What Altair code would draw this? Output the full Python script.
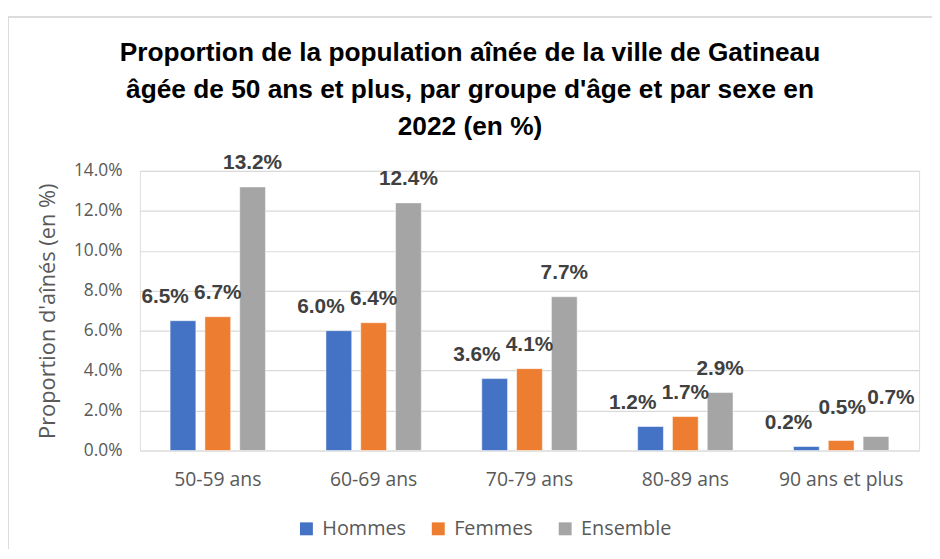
import altair as alt
import pandas as pd

groups = ["50-59 ans", "60-69 ans", "70-79 ans", "80-89 ans", "90 ans et plus"]
series = ["Hommes", "Femmes", "Ensemble"]
hommes = [6.5, 6.0, 3.6, 1.2, 0.2]
femmes = [6.7, 6.4, 4.1, 1.7, 0.5]
ensemble = [13.2, 12.4, 7.7, 2.9, 0.7]
colors = ["#4472C4", "#ED7D31", "#A5A5A5"]
y_ticks = [0, 2, 4, 6, 8, 10, 12, 14]

rows = []
for name, vals in zip(series, [hommes, femmes, ensemble]):
    for g, v in zip(groups, vals):
        rows.append({"groupe": g, "serie": name, "valeur": v})
df = pd.DataFrame(rows)

AX_FONT = "Open Sans"
LAB_FONT = "Liberation Sans"

x = alt.X("groupe:N", sort=groups,
          scale=alt.Scale(paddingInner=0.33, paddingOuter=0.165),
          axis=alt.Axis(title=None, labelAngle=0, labelFontSize=19.5, labelFont=AX_FONT,
                        labelColor="#595959", ticks=False, domain=False, labelPadding=20))
xo = alt.XOffset("serie:N", sort=series,
                 scale=alt.Scale(paddingInner=0.26, paddingOuter=0.13))
y = alt.Y("valeur:Q", scale=alt.Scale(domain=[0, 14]),
          axis=alt.Axis(values=y_ticks, labelExpr="format(datum.value, '.1f') + '%'",
                        title="Proportion d'aînés (en %)", titleFont=AX_FONT,
                        titleFontSize=22, titleFontWeight="normal", titleColor="#595959",
                        titleX=-93, titleY=141, titleAngle=270, titleBaseline="middle",
                        titleAlign="center",
                        labelFont=AX_FONT, labelFontSize=17.5, labelColor="#595959",
                        ticks=False, domain=False, labelPadding=18,
                        gridColor="#D9D9D9", gridWidth=1.2))
color = alt.Color("serie:N", sort=series,
                  scale=alt.Scale(domain=series, range=colors),
                  legend=alt.Legend(title=None, orient="none", direction="horizontal",
                                    legendX=158, legendY=351, symbolType="square",
                                    symbolSize=170, symbolStrokeWidth=0,
                                    labelFont=AX_FONT, labelFontSize=20,
                                    labelColor="#595959", columnPadding=22, labelOffset=6))

frame_top = alt.Chart(df).mark_rule(stroke="#DCDCDC", strokeWidth=1.5).encode(
    x=alt.value(-133), x2=alt.value(900), y=alt.value(-155))
frame_left = alt.Chart(df).mark_rule(stroke="#DCDCDC", strokeWidth=1.5).encode(
    x=alt.value(-133), y=alt.value(-155), y2=alt.value(450))

bars = alt.Chart(df).mark_bar(stroke="white", strokeWidth=0.5).encode(
    x=x, xOffset=xo, y=y, color=color)


def labels(cond, dx, dy):
    return alt.Chart(df).transform_filter(cond).transform_calculate(
        lab="format(datum.valeur, '.1f') + '%'").mark_text(
        dx=dx, dy=dy, fontSize=21, fontWeight="bold", font=LAB_FONT,
        color="#404040", baseline="middle").encode(
        x=alt.X("groupe:N", sort=groups), xOffset=alt.XOffset("serie:N", sort=series),
        y="valeur:Q", text="lab:N")


last = "datum.groupe == '90 ans et plus'"
lab_h = labels("datum.serie == 'Hommes'", -18, -24)
lab_o = labels(f"datum.serie != 'Hommes' && !({last})", 0, -24)
lab_f90 = labels(f"datum.serie == 'Femmes' && {last}", 1, -33)
lab_e90 = labels(f"datum.serie == 'Ensemble' && {last}", 15, -39)

chart = alt.layer(frame_top, frame_left, bars, lab_h, lab_o, lab_f90, lab_e90).properties(
    width=786, height=282,
    title=alt.TitleParams(
        ["Proportion de la population aînée de la ville de Gatineau",
         "âgée de 50 ans et plus, par groupe d'âge et par sexe en",
         "2022 (en %)"],
        font=LAB_FONT, fontSize=26.5, fontWeight="bold", color="#000000",
        lineHeight=37.5, anchor="middle", frame="group", offset=-125, dx=-60),
    autosize=alt.AutoSizeParams(type="none"),
    padding={"left": 133, "top": 162, "right": 13, "bottom": 97},
).configure_view(stroke=None).configure(background="white")

chart.save("out.html", embed_options={"renderer": "svg", "actions": False})
